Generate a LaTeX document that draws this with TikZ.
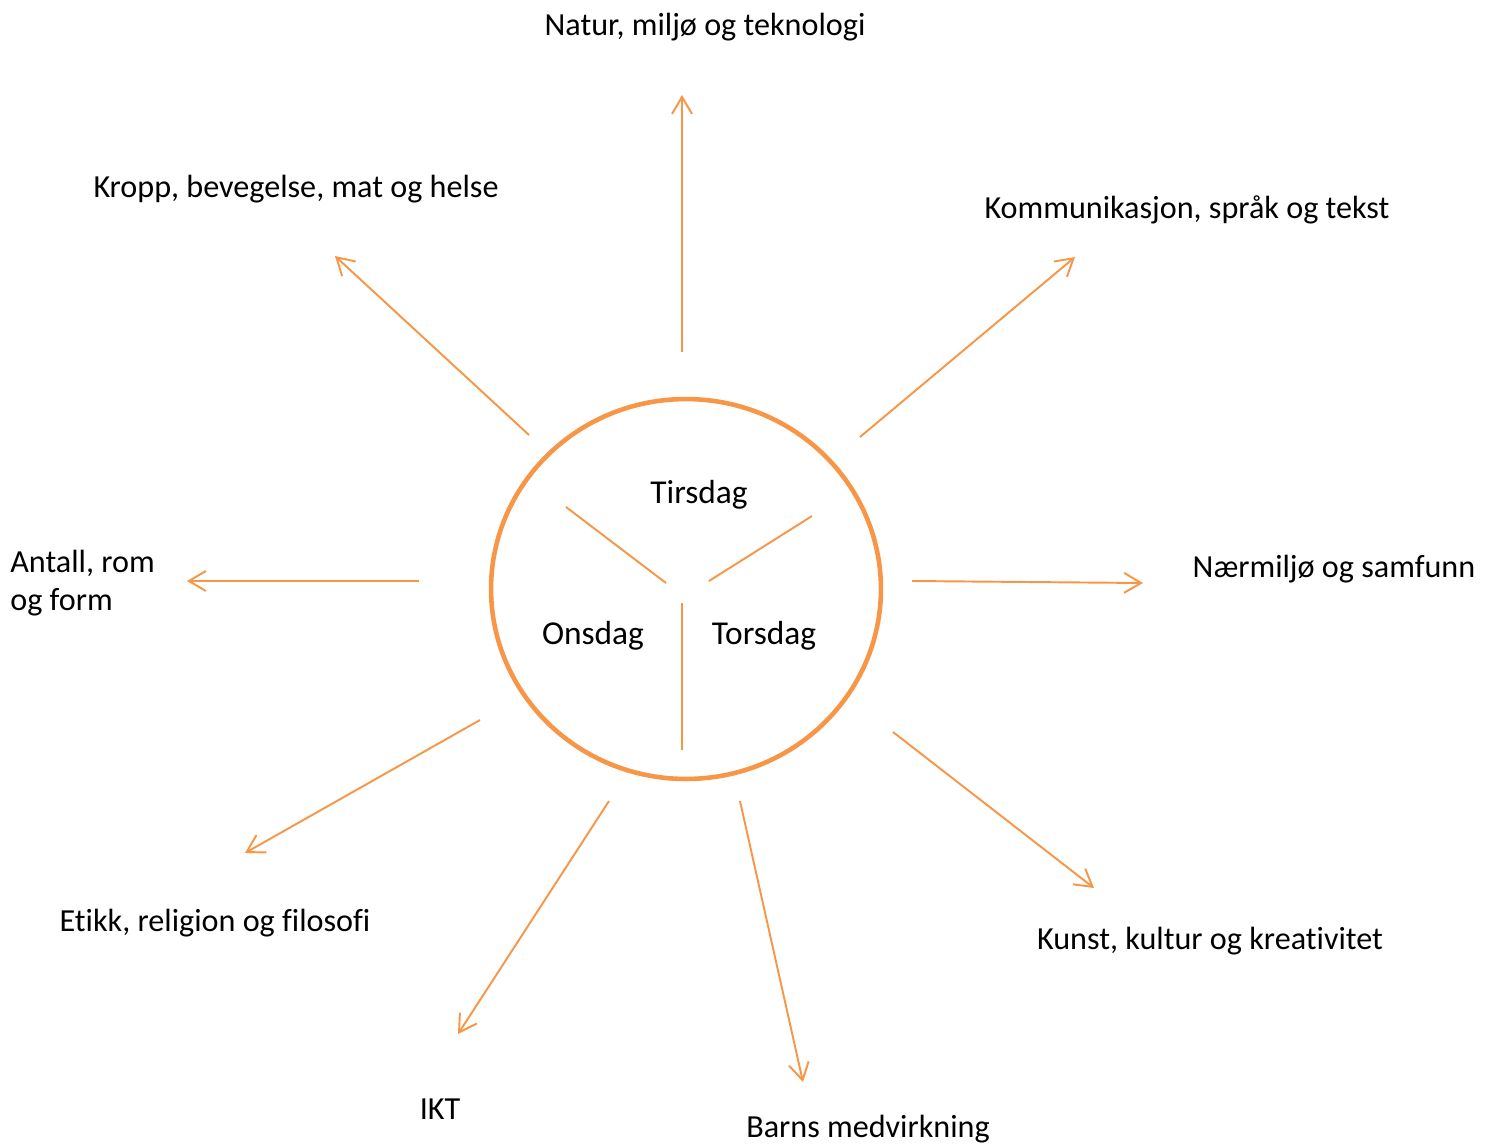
\documentclass[tikz,border=0pt]{standalone}
\usepackage{fontspec}
\setmainfont[Ligatures=NoCommon]{Carlito}
\usetikzlibrary{arrows.meta, shapes.geometric}

\definecolor{sunorange}{HTML}{F79646}

\begin{document}
\begin{tikzpicture}[
    x=0.02cm, y=-0.02cm,
    label/.style={inner sep=0pt, font=\fontsize{18.3}{22}\selectfont},
    day/.style={inner sep=0pt, font=\fontsize{19}{22}\selectfont},
    ray/.style={draw=sunorange, line width=1.1pt, -{Straight Barb[length=0.34cm, width=0.4cm]}},
    spoke/.style={draw=sunorange, line width=1.1pt}
]
\useasboundingbox (0,0) rectangle (1489,1144);

% the sun in the middle
\node[draw=sunorange, line width=2.6pt, ellipse, minimum width=7.8cm, minimum height=7.6cm, inner sep=0pt] (sun) at (686,589) {};

\node[day] (tue) at (699,495) {Tirsdag};
\node[day] (wed) at (593,636) {Onsdag};
\node[day] (thu) at (764,636) {Torsdag};

\coordinate (mid1) at (666,583);
\coordinate (mid2) at (709,581);
\coordinate (mid3) at (682,603);
\coordinate (out1) at (566,507);
\coordinate (out2) at (812,516);
\coordinate (out3) at (682,750);
\draw[spoke] (out1) -- (mid1);
\draw[spoke] (out2) -- (mid2);
\draw[spoke] (mid3) -- (out3);

% topics round it
\node[label] (natur) at (705,27) {Natur, miljø og teknologi};
\node[label] (kropp) at (296,189) {Kropp, bevegelse, mat og helse};
\node[label] (komm) at (1187,210) {Kommunikasjon, språk og tekst};
\node[label, anchor=west, align=left] (antall) at (10,583) {Antall, rom\\og form};
\node[label] (naer) at (1334,569) {Nærmiljø og samfunn};
\node[label] (etikk) at (215,923) {Etikk, religion og filosofi};
\node[label] (kunst) at (1210,941) {Kunst, kultur og kreativitet};
\node[label] (ikt) at (440,1109) {IKT};
\node[label] (barn) at (868,1129) {Barns medvirkning};

% arrows
\coordinate (sN) at (682,352);   \coordinate (eN) at (682,95);
\coordinate (sNW) at (529,435);  \coordinate (eNW) at (335,256);
\coordinate (sNE) at (860,437);  \coordinate (eNE) at (1075,257);
\coordinate (sW) at (419,581);   \coordinate (eW) at (187,581);
\coordinate (sE) at (912,581);   \coordinate (eE) at (1143,583);
\coordinate (sSW) at (480,720);  \coordinate (eSW) at (245,853);
\coordinate (sSSW) at (609,801); \coordinate (eSSW) at (458,1034);
\coordinate (sS) at (740,801);   \coordinate (eS) at (803,1082);
\coordinate (sSE) at (893,732);  \coordinate (eSE) at (1094,888);

\draw[ray] (sN) -- (eN);
\draw[ray] (sNW) -- (eNW);
\draw[ray] (sNE) -- (eNE);
\draw[ray] (sW) -- (eW);
\draw[ray] (sE) -- (eE);
\draw[ray] (sSW) -- (eSW);
\draw[ray] (sSSW) -- (eSSW);
\draw[ray] (sS) -- (eS);
\draw[ray] (sSE) -- (eSE);

\end{tikzpicture}
\end{document}
